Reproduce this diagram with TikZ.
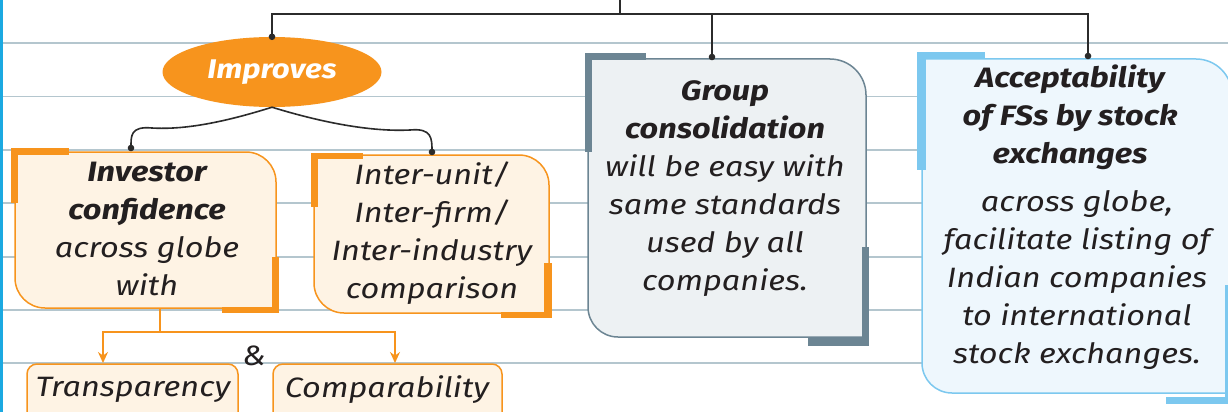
\documentclass[tikz,border=0pt]{standalone}
\usepackage{fontspec}
\setmainfont[FakeStretch=1.16]{Fira Sans}
\usetikzlibrary{arrows.meta,shapes.geometric}
\definecolor{org}{HTML}{F7941D}
\definecolor{orgfill}{HTML}{FEF3E4}
\definecolor{slate}{HTML}{6C8593}
\definecolor{slatefill}{HTML}{EDF1F3}
\definecolor{sky}{HTML}{7CC8EF}
\definecolor{skyfill}{HTML}{EEF7FD}
\definecolor{rulec}{HTML}{B4C6CE}
\definecolor{linec}{HTML}{2B2B2B}
\definecolor{textc}{HTML}{231F20}
\definecolor{cyanl}{HTML}{1BA9E1}
\tikzset{
  rulel/.style={draw=rulec, line width=1.4pt},
  conn/.style={draw=linec, line width=1.6pt},
  oconn/.style={draw=org, line width=1.6pt},
  txt/.style={align=center, font=\fontsize{28}{38}\selectfont\itshape, text=textc, inner sep=0pt},
  ell/.style={ellipse, fill=org, text=white, inner sep=0pt, minimum width=219pt, minimum height=70pt,
              font=\fontsize{27}{30}\selectfont\bfseries\itshape},
  obox/.style={fill=orgfill, draw=org, line width=1.5pt},
  sbox/.style={fill=slatefill, draw=slate, line width=1.5pt},
  bbox/.style={fill=skyfill, draw=sky, line width=1.5pt},
}
\begin{document}
\begin{tikzpicture}[x=1pt,y=-1pt]
\useasboundingbox (0,0) rectangle (1228,412);
\clip (0,0) rectangle (1228,412);
\fill[white] (0,0) rectangle (1228,412);
% ruled lines
\foreach \yy in {43,96.5,150,203,257,310,363} \draw[rulel] (3,\yy) -- (1228,\yy);
\draw[cyanl, line width=2.5pt] (1.3,0) -- (1.3,412);

% Investor box
\draw[obox] (15,152) -- (246,152) arc[start angle=-90,end angle=0,radius=30] -- (276,308) -- (45,308) arc[start angle=90,end angle=180,radius=30] -- cycle;
\fill[org] (11,148) rectangle (69,155); \fill[org] (11,148) rectangle (18,203);
\fill[org] (272,257) rectangle (279,313); \fill[org] (222,307) rectangle (279,313);
% Inter-unit box
\draw[obox] (314,155) -- (519,155) arc[start angle=-90,end angle=0,radius=30] -- (549,313) -- (344,313) arc[start angle=90,end angle=180,radius=30] -- cycle;
\fill[org] (311,153) rectangle (363,159); \fill[org] (311,153) rectangle (318,207);
\fill[org] (544,263) rectangle (552,318); \fill[org] (501,312) rectangle (552,318);
% Group box
\draw[sbox] (588,59) -- (830,59) arc[start angle=-90,end angle=0,radius=36] -- (866,337) -- (618,337) arc[start angle=90,end angle=180,radius=30] -- cycle;
\fill[slate] (585,53) rectangle (646,60); \fill[slate] (585,53) rectangle (592,152);
\fill[slate] (862,247) rectangle (869,346); \fill[slate] (808,338) rectangle (869,346);
% Acceptability box
\draw[bbox] (922,59) -- (1196,59) arc[start angle=-90,end angle=0,radius=36] -- (1232,393) -- (952,393) arc[start angle=90,end angle=180,radius=30] -- cycle;
\fill[sky] (917,52) rectangle (985,59); \fill[sky] (917,52) rectangle (926,170);
\fill[sky] (1225,285) rectangle (1232,403); \fill[sky] (1166,397) rectangle (1232,404);
% small boxes
\draw[obox, rounded corners=10pt] (27,430) -- (27,364) -- (238,364) -- (238,430);
\draw[obox, rounded corners=10pt] (273,430) -- (273,364) -- (502,364) -- (502,430);

% texts
\node[ell] (imp) at (272,72) {Improves};
\node[txt] (inv) at (147,229) {\textbf{Investor}\\\textbf{confidence}\\across globe\\with};
\node[txt] (int) at (432,233) {Inter-unit/\\Inter-firm/\\Inter-industry\\comparison};
\node[txt] (grp) at (725,189) {\textbf{Group}\\\textbf{consolidation}\\will be easy with\\same standards\\used by all\\companies.};
\node[txt] (acc1) at (1070,117) {\textbf{Acceptability}\\\textbf{of FSs by stock}\\\textbf{exchanges}};
\node[txt] (acc2) at (1077,280) {across globe,\\facilitate listing of\\Indian companies\\to international\\stock exchanges.};
\node[txt] (trn) at (133,390) {Transparency};
\node[txt] (cmp) at (387,390) {Comparability};
\node[txt] (amp) at (254,356) {\&};

% top connectors
\coordinate (top) at (620,0);
\coordinate (hub) at (620,14);
\coordinate (grpin) at (712,57);
\coordinate (accin) at (1088,56);
\draw[conn] (top) -- (hub);
\draw[conn] (hub) -| (imp.north);
\draw[conn] (hub) -| (grpin);
\draw[conn] (hub) -| (accin);
\fill[linec] (imp.north) circle (3.3) (grpin) circle (3.3) (accin) circle (3.3);

% brace
\coordinate (invin) at (131,148);
\coordinate (intin) at (432,152);
\draw[conn] (imp.south) .. controls (225,122) and (185,130) .. (152,128) .. controls (130,126) and (131,136) .. (invin);
\draw[conn] (imp.south) .. controls (320,122) and (370,132) .. (410,130) .. controls (432,128) and (432,138) .. (intin);
\fill[linec] (invin) circle (3.3) (intin) circle (3.3);

% orange connectors
\coordinate (invb) at (160,309);
\coordinate (split) at (160,332);
\coordinate (trnin) at (103,363);
\coordinate (cmpin) at (395,363);
\draw[oconn] (invb) -- (split);
\draw[oconn,-{Stealth[length=11pt,width=10pt]}] (split) -| (trnin);
\draw[oconn,-{Stealth[length=11pt,width=10pt]}] (split) -| (cmpin);
\end{tikzpicture}
\end{document}
